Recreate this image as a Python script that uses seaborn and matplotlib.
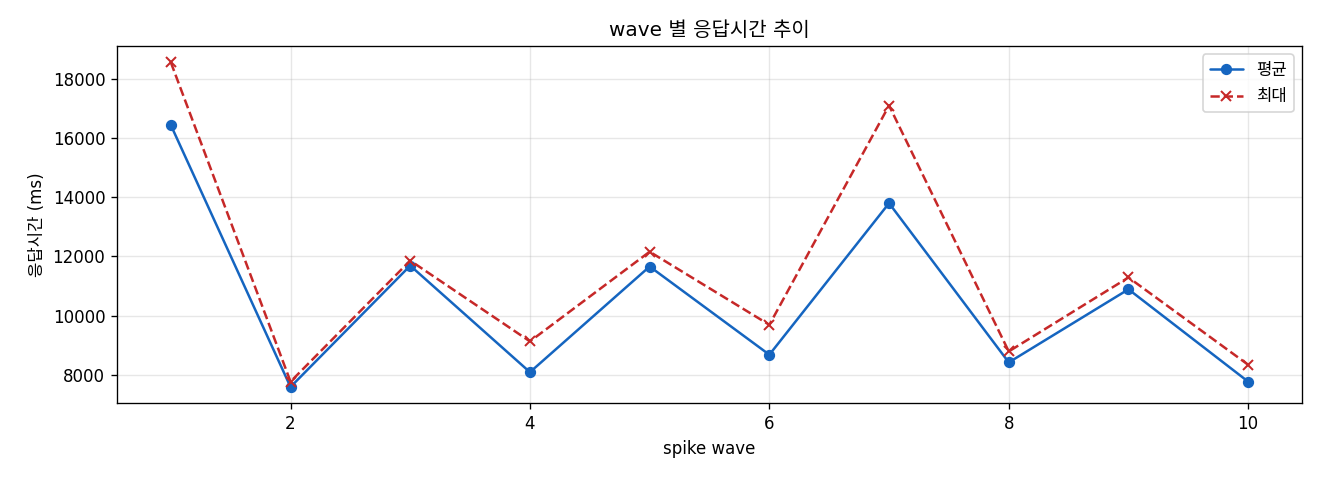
import seaborn as sns
import pandas as pd
import matplotlib
matplotlib.use('Agg')
import matplotlib.pyplot as plt

waves = [1, 2, 3, 4, 5, 6, 7, 8, 9, 10]
avg_ms = [16440, 7590, 11690, 8090, 11660, 8680, 13800, 8420, 10890, 7770]
max_ms = [18560, 7770, 11860, 9130, 12160, 9690, 17100, 8790, 11290, 8340]

sns.set_style('white', {'text.color': 'black', 'axes.labelcolor': 'black',
                        'xtick.color': 'black', 'ytick.color': 'black',
                        'grid.color': '#b0b0b0'})
plt.rcParams['font.family'] = ['DejaVu Sans', 'Noto Sans CJK KR']
plt.rcParams['axes.unicode_minus'] = False

data = pd.DataFrame({'wave': waves, 'avg': avg_ms, 'max': max_ms})

fig, ax = plt.subplots(figsize=(11, 4), dpi=120)
sns.lineplot(x='wave', y='avg', data=data, marker='o', color='#1565C0',
             markeredgecolor='#1565C0', markersize=6, label='평균', ax=ax)
sns.lineplot(x='wave', y='max', data=data, marker='x', color='#C62828',
             markeredgecolor='#C62828', linestyle='--', markersize=6,
             markeredgewidth=1.2, label='최대', ax=ax)

ax.set_title('wave 별 응답시간 추이')
ax.set_xlabel('spike wave')
ax.set_ylabel('응답시간 (ms)')
ax.grid(True, alpha=0.3, color='#b0b0b0')
for s in ax.spines.values():
    s.set_color('black')
    s.set_linewidth(0.8)
ax.tick_params(axis='both', direction='out', length=3.5, width=0.8,
               left=True, bottom=True, colors='black')
ax.legend(loc='upper right')

plt.subplots_adjust(left=0.0886, right=0.9864, top=0.904, bottom=0.160)
plt.savefig('out.png')
